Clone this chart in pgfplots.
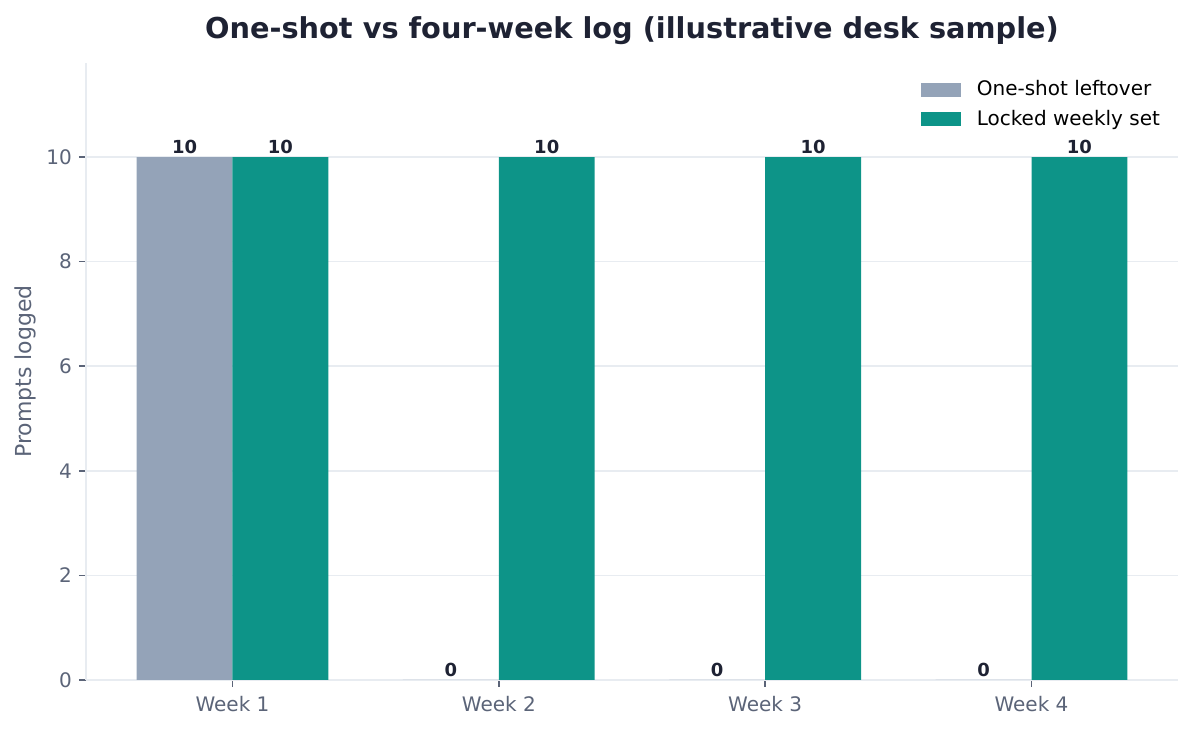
\documentclass[border=0pt]{standalone}
\usepackage{fontspec}
\setmainfont{DejaVu Sans}
\usepackage{pgfplots}
\pgfplotsset{compat=1.18}

\definecolor{oneshot}{HTML}{94A3B8}
\definecolor{locked}{HTML}{0D9488}
\definecolor{gridc}{HTML}{E8ECF1}
\definecolor{labelc}{HTML}{5B6478}
\definecolor{titlec}{HTML}{1E2233}

\begin{document}
\begin{tikzpicture}
\begin{axis}[
  width=546pt, height=308.5pt,
  scale only axis,
  xmin=-0.55, xmax=3.55,
  ymin=0, ymax=11.8,
  xtick={0,1,2,3},
  xticklabels={Week 1,Week 2,Week 3,Week 4},
  ytick={0,2,4,6,8,10},
  axis x line*=bottom,
  axis y line*=left,
  axis line style={draw=gridc, line width=0.8pt, -},
  tick align=outside,
  major tick length=3.5pt,
  major tick style={draw=labelc, line width=0.8pt},
  ymajorgrids,
  grid style={draw=gridc, line width=0.8pt},
  ticklabel style={font=\fontsize{10}{12}\selectfont, text=labelc},
  xticklabel style={yshift=-1pt},
  /pgf/number format/assume math mode=true,
  ylabel={Prompts logged},
  every axis y label/.style={at={(rel axis cs:0,0.5)}, xshift=-30.5pt, rotate=90, anchor=center,
    font=\fontsize{11}{13}\selectfont, text=labelc},
  title={One-shot vs four-week log (illustrative desk sample)},
  title style={at={(rel axis cs:0.5,1)}, anchor=base, yshift=6pt,
    font=\bfseries\fontsize{14.4}{17}\selectfont, text=titlec},
  ybar, bar width=0.36, bar shift=0,
  nodes near coords,
  every node near coord/.append style={font=\bfseries\fontsize{9}{11}\selectfont, text=titlec, inner sep=1.5pt},
  legend style={draw=none, fill=none, at={(rel axis cs:0.993,0.985)}, anchor=north east,
    font=\fontsize{10}{12}\selectfont, row sep=1.5pt, column sep=6pt, cells={anchor=west}},
  legend image code/.code={\fill[#1] (0pt,-3.5pt) rectangle (20pt,3.5pt);},
]
\addplot[fill=oneshot, draw=none] coordinates {
  (-0.18,10) (0.82,0) (1.82,0) (2.82,0)
};
\addlegendentry{One-shot leftover}
\addplot[fill=locked, draw=none] coordinates {
  (0.18,10) (1.18,10) (2.18,10) (3.18,10)
};
\addlegendentry{Locked weekly set}
\end{axis}
\path[use as bounding box] ([shift={(-43pt,-25.5pt)}]current axis.south west) rectangle ([shift={(7.5pt,31.5pt)}]current axis.north east);
\end{tikzpicture}
\end{document}
